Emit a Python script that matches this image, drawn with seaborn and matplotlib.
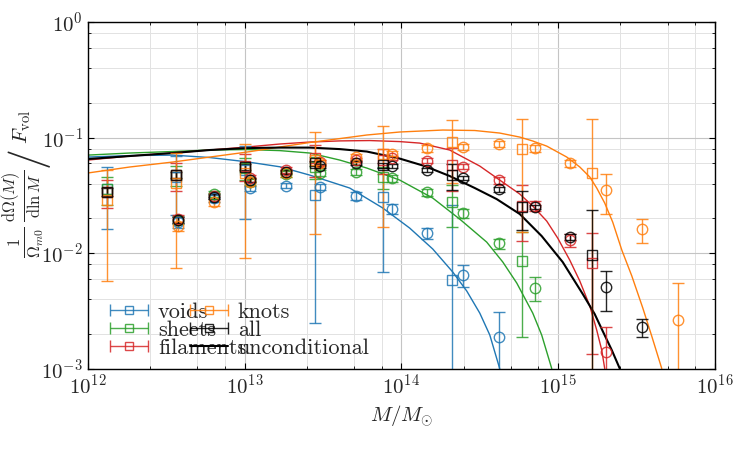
import numpy as np
import pandas as pd
import seaborn as sns
import matplotlib.pyplot as plt
from matplotlib.ticker import LogLocator, NullFormatter
from matplotlib.legend_handler import HandlerErrorbar
from matplotlib.lines import Line2D

nan = np.nan

#%% binned measurements (circles: fine bins, squares: coarse bins)
circle_m = [3.77e12, 6.37e12, 1.08e13, 1.83e13, 3.05e13, 5.18e13, 8.74e13, 1.47e14,
            2.48e14, 4.19e14, 7.11e14, 1.20e15, 2.03e15, 3.42e15, 5.81e15]

voids_circ = [0.0186, 0.0299, 0.0363, 0.0383, 0.0373, 0.0311, 0.0243, 0.0149,
              0.00645, 0.00187, nan, nan, nan, nan, nan]
voids_circ_err = [0.002, 0.002, 0.002, 0.002, 0.0025, 0.0025, 0.0025, 0.0016,
                  0.0014, 0.0012, nan, nan, nan, nan, nan]
sheets_circ = [0.0193, 0.0324, 0.0412, 0.0483, 0.0493, 0.0500, 0.0446, 0.0337,
               0.0221, 0.01213, 0.00501, nan, nan, nan, nan]
sheets_circ_err = [0.0015, 0.002, 0.0025, 0.003, 0.003, 0.003, 0.003, 0.0025,
                   0.002, 0.0012, 0.00116, nan, nan, nan, nan]
filaments_circ = [0.0197, 0.0311, 0.0443, 0.0523, 0.0614, 0.0639, 0.0665, 0.0630,
                  0.0559, 0.0429, 0.0255, 0.01296, 0.00139, nan, nan]
filaments_circ_err = [0.0015, 0.002, 0.003, 0.003, 0.003, 0.003, 0.003, 0.003,
                      0.003, 0.003, 0.0025, 0.0017, 0.0009, nan, nan]
knots_circ = [0.0171, 0.0276, 0.0414, 0.0490, 0.0602, 0.0685, 0.0727, 0.0806,
              0.0823, 0.0879, 0.0806, 0.0598, 0.0351, 0.0160, 0.00263]
knots_circ_err = [0.0015, 0.002, 0.003, 0.003, 0.004, 0.004, 0.004, 0.005,
                  0.005, 0.005, 0.005, 0.0045, 0.0135, 0.0038, 0.0029]
all_circ = [0.0193, 0.0307, 0.0429, 0.0500, 0.0566, 0.0602, 0.0566, 0.0523,
            0.0446, 0.0356, 0.0250, 0.01376, 0.00511, 0.00227, nan]
all_circ_err = [0.0012, 0.0015, 0.002, 0.002, 0.002, 0.002, 0.002, 0.002,
                0.002, 0.0015, 0.001, 0.0008, 0.00195, 0.0004, nan]

square_m = [1.33e12, 3.64e12, 1.01e13, 2.81e13, 7.66e13, 2.12e14, 5.90e14, 1.64e15]

voids_sq = [0.0356, 0.0455, 0.052, 0.0318, 0.0305, 0.00584, nan, nan]
voids_sq_err = [0.0196, 0.0242, 0.0324, 0.0293, 0.0237, 0.0202, nan, nan]
sheets_sq = [0.0356, 0.0475, 0.055, 0.056, 0.0458, 0.0278, 0.00858, nan]
sheets_sq_err = [0.0096, 0.0095, 0.012, 0.012, 0.010, 0.0109, 0.0067, nan]
filaments_sq = [0.0339, 0.0476, 0.057, 0.066, 0.064, 0.0578, 0.0257, 0.00814]
filaments_sq_err = [0.0092, 0.0130, 0.015, 0.0202, 0.016, 0.0234, 0.0131, 0.0068]
knots_sq = [0.0288, 0.0402, 0.0489, 0.0634, 0.0714, 0.0909, 0.0799, 0.0490]
knots_sq_err = [0.0231, 0.0328, 0.0399, 0.0488, 0.0545, 0.0508, 0.0647, 0.0956]
all_sq = [0.0339, 0.0473, 0.0555, 0.0598, 0.0578, 0.0473, 0.0252, 0.00961]
all_sq_err = [0.003, 0.003, 0.003, 0.003, 0.003, 0.012, 0.0094, 0.0140]

#%% model curves, read as log10(M) and log10(value)
voids_curve_logm = [12.0, 12.268, 12.542, 12.778, 13.014, 13.225, 13.416, 13.671,
                    13.882, 14.054, 14.201, 14.329, 14.418, 14.501, 14.565, 14.628]
voids_curve_logy = [-1.169, -1.156, -1.152, -1.173, -1.210, -1.253, -1.325, -1.437,
                    -1.610, -1.784, -1.965, -2.165, -2.329, -2.520, -2.710, -3.0]
sheets_curve_logm = [12.0, 12.268, 12.542, 12.778, 13.014, 13.225, 13.416, 13.608,
                     13.780, 13.990, 14.201, 14.373, 14.545, 14.648, 14.737, 14.839,
                     14.896, 14.960]
sheets_curve_logy = [-1.152, -1.134, -1.121, -1.108, -1.104, -1.113, -1.134, -1.195,
                     -1.264, -1.368, -1.524, -1.706, -1.905, -2.078, -2.260, -2.520,
                     -2.710, -3.0]
filaments_curve_logm = [12.0, 12.268, 12.542, 12.778, 13.014, 13.225, 13.416, 13.608,
                        13.799, 13.990, 14.118, 14.309, 14.501, 14.628, 14.756, 14.839,
                        14.928, 14.998, 15.075, 15.139, 15.203, 15.247, 15.279, 15.298]
filaments_curve_logy = [-1.195, -1.160, -1.134, -1.108, -1.082, -1.056, -1.039, -1.029,
                        -1.026, -1.035, -1.048, -1.108, -1.247, -1.368, -1.489, -1.593,
                        -1.723, -1.870, -2.061, -2.242, -2.459, -2.667, -2.840, -3.0]
knots_curve_logm = [12.0, 12.268, 12.542, 12.778, 13.014, 13.225, 13.416, 13.608,
                    13.780, 13.990, 14.265, 14.469, 14.628, 14.756, 14.839, 14.928,
                    15.056, 15.139, 15.203, 15.247, 15.298, 15.349, 15.407, 15.471,
                    15.541, 15.598, 15.662]
knots_curve_logy = [-1.307, -1.255, -1.212, -1.169, -1.126, -1.082, -1.043, -1.009,
                    -0.978, -0.952, -0.935, -0.939, -0.961, -0.996, -1.030, -1.074,
                    -1.169, -1.255, -1.342, -1.437, -1.567, -1.732, -1.974, -2.199,
                    -2.476, -2.719, -3.0]
uncond_curve_logm = [12.0, 12.268, 12.542, 12.778, 13.014, 13.225, 13.416, 13.608,
                     13.780, 13.990, 14.150, 14.309, 14.469, 14.609, 14.756, 14.896,
                     15.030, 15.158, 15.234, 15.285, 15.343, 15.394]
uncond_curve_logy = [-1.186, -1.160, -1.134, -1.108, -1.091, -1.087, -1.087, -1.100,
                     -1.121, -1.182, -1.247, -1.333, -1.437, -1.533, -1.662, -1.853,
                     -2.078, -2.355, -2.528, -2.675, -2.840, -3.0]

envs = ['voids', 'sheets', 'filaments', 'knots', 'all']
colors = {'voids': '#1f77b4', 'sheets': '#2ca02c', 'filaments': '#d62728',
          'knots': '#ff7f0e', 'all': 'black'}
circ = {'voids': (voids_circ, voids_circ_err), 'sheets': (sheets_circ, sheets_circ_err),
        'filaments': (filaments_circ, filaments_circ_err),
        'knots': (knots_circ, knots_circ_err), 'all': (all_circ, all_circ_err)}
sq = {'voids': (voids_sq, voids_sq_err), 'sheets': (sheets_sq, sheets_sq_err),
      'filaments': (filaments_sq, filaments_sq_err),
      'knots': (knots_sq, knots_sq_err), 'all': (all_sq, all_sq_err)}


def curve_df(logm, logy, name):
    return pd.DataFrame({'M': np.power(10.0, logm), 'val': np.power(10.0, logy),
                         'env': name})


curves = pd.concat([
    curve_df(voids_curve_logm, voids_curve_logy, 'voids'),
    curve_df(sheets_curve_logm, sheets_curve_logy, 'sheets'),
    curve_df(filaments_curve_logm, filaments_curve_logy, 'filaments'),
    curve_df(knots_curve_logm, knots_curve_logy, 'knots'),
], ignore_index=True)
uncond = curve_df(uncond_curve_logm, uncond_curve_logy, 'unconditional')

#%% style
sns.set_style('ticks')
plt.rcParams['font.family'] = 'serif'
plt.rcParams['font.serif'] = ['cmr10']
plt.rcParams['mathtext.fontset'] = 'cm'
plt.rcParams['axes.formatter.use_mathtext'] = True
plt.rcParams['font.size'] = 15

fig = plt.figure(figsize=(7.5, 4.5), dpi=100)
ax = fig.add_axes([0.117, 0.181, 0.836, 0.770])
ax.set_xscale('log')
ax.set_yscale('log')

sns.lineplot(data=curves, x='M', y='val', hue='env', palette=colors, estimator=None,
             sort=False, legend=False, lw=1.0, ax=ax)
sns.lineplot(data=uncond, x='M', y='val', color='black', estimator=None, sort=False,
             legend=False, lw=1.5, ax=ax)

for env in envs:
    c = colors[env]
    for mm, (v, e), mk in [(square_m, sq[env], 's'), (circle_m, circ[env], 'o')]:
        mm = np.array(mm); v = np.array(v); e = np.array(e)
        ok = np.isfinite(v)
        ax.errorbar(mm[ok], v[ok], yerr=e[ok], fmt=mk, mfc='none', mec=c, color=c,
                    ms=7.5, mew=1.0, elinewidth=1.0, capsize=4, alpha=0.85)

ax.set_xlim(1e12, 1e16)
ax.set_ylim(1e-3, 1)
ax.xaxis.set_major_locator(LogLocator(base=10, numticks=10))
ax.xaxis.set_minor_locator(LogLocator(base=10, subs=[2.5, 5, 7.5], numticks=10))
ax.yaxis.set_minor_locator(LogLocator(base=10, subs=[2, 4, 6, 8], numticks=10))
ax.xaxis.set_minor_formatter(NullFormatter())
ax.yaxis.set_minor_formatter(NullFormatter())
ax.grid(which='major', color='#c4c4c4', lw=0.8)
ax.grid(which='minor', color='#e2e2e2', lw=0.7)
ax.set_axisbelow(True)
ax.tick_params(which='both', direction='in', top=True, right=True, labelsize=15,
               color='black')
ax.tick_params(which='major', length=4)
ax.tick_params(which='minor', length=2.5)
for s in ax.spines.values():
    s.set_color('black')
    s.set_linewidth(1.0)

ax.set_xlabel(r'$M/M_{\odot}$', fontsize=15, labelpad=4)
ax.set_ylabel('')
# y label in three pieces so the slash can be drawn large
ax.text(-0.103, 0.445, r'$\frac{1}{\Omega_{m0}}\,\frac{\mathrm{d}\Omega(M)}{\mathrm{d}\ln M}$',
        rotation=90, ha='center', va='center', transform=ax.transAxes, fontsize=17)
ax.text(-0.097, 0.613, '/', rotation=90, ha='center', va='center',
        transform=ax.transAxes, fontsize=30)
ax.text(-0.105, 0.697, r'$F_{\mathrm{vol}}$', rotation=90, ha='center', va='center',
        transform=ax.transAxes, fontsize=15)

# legend proxies
handles = []
for env in envs:
    h = ax.errorbar([nan], [nan], xerr=[1.0], fmt='s', mfc='none', mec=colors[env],
                    color=colors[env], ms=6, mew=1.0, elinewidth=1.0, capsize=4,
                    alpha=0.85, label=env)
    handles.append(h)
handles.append(Line2D([], [], color='black', lw=1.5, label='unconditional'))
ax.legend(handles=handles, loc='lower left', bbox_to_anchor=(0.036, 0.03), ncol=2,
          frameon=False, borderpad=0, borderaxespad=0, handlelength=1.7,
          handletextpad=0.44, columnspacing=-2.52, labelspacing=-0.07, fontsize=16,
          handler_map={type(handles[0]): HandlerErrorbar(xerr_size=0.85)})

fig.savefig('out.png', dpi=100)
